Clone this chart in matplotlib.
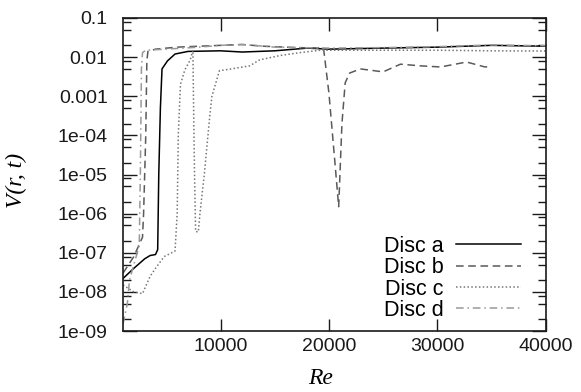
import matplotlib
matplotlib.use("Agg")
import matplotlib.pyplot as plt
from matplotlib.ticker import FixedLocator, FixedFormatter, LogLocator, NullFormatter

# Re values and V(r,t)
re_a = [1000, 2000, 3000, 3500, 4000, 4200, 4300, 4450, 4600, 5100, 5800, 7000,
        10000, 12000, 15000, 18000, 20000, 25000, 30000, 35000, 40000]
v_a = [2.2e-8, 4e-8, 7e-8, 8.5e-8, 9e-8, 1.2e-7, 1e-5, 5e-4, 5e-3, 8e-3, 1.2e-2, 1.4e-2,
       1.45e-2, 1.35e-2, 1.45e-2, 1.7e-2, 1.6e-2, 1.7e-2, 1.8e-2, 2e-2, 1.9e-2]

re_b = [1000, 2000, 2800, 2900, 3100, 3200, 3300, 4000, 6000, 8000, 10000, 12000,
        14000, 17000, 19500, 20000, 20500, 20900, 21200, 21500, 21900, 22900, 25000,
        26600, 28400, 30300, 32700, 34400, 35000]
v_b = [3e-8, 8e-8, 2.5e-7, 1e-6, 1e-4, 8e-3, 1.4e-2, 1.6e-2, 1.8e-2, 1.9e-2, 2e-2, 2.1e-2,
       1.9e-2, 1.75e-2, 1.7e-2, 1.2e-3, 3e-5, 1.5e-6, 2e-4, 2.2e-3, 3.9e-3, 5e-3, 4.2e-3,
       6.6e-3, 6e-3, 5.6e-3, 7.5e-3, 5.6e-3, 5.8e-3]

re_c = [1000, 2000, 2800, 3500, 4000, 4800, 5800, 6000, 6100, 6300, 6700, 7200, 7450,
        7500, 7600, 7700, 7950, 8100, 8500, 9000, 9200, 9900, 11000, 12700, 13600,
        15500, 17300, 19200, 25000, 30000, 35000, 40000]
v_c = [1.5e-8, 1e-8, 9e-9, 2.5e-8, 4e-8, 8e-8, 1.1e-7, 1e-6, 1e-4, 2e-3, 4.7e-3, 8.4e-3, 1.5e-2,
       1e-3, 1e-5, 3.5e-7, 3.4e-7, 1e-6, 1e-5, 3e-4, 1e-3, 4.5e-3, 5e-3, 6e-3, 8.5e-3,
       1.1e-2, 1.3e-2, 1.5e-2, 1.5e-2, 1.5e-2, 1.45e-2, 1.43e-2]

re_d = [1000, 1400, 1600, 2000, 2500, 2600, 2700, 2800, 3100, 5000, 8000, 10000,
        12000, 14000, 15000, 20000, 25000, 30000, 35000, 40000]
v_d = [1.5e-9, 5e-9, 2e-8, 5e-8, 1.5e-7, 1e-5, 5e-3, 1.3e-2, 1.5e-2, 1.6e-2, 1.8e-2, 2e-2,
       2.1e-2, 1.9e-2, 1.8e-2, 1.7e-2, 1.75e-2, 1.85e-2, 2.05e-2, 1.95e-2]

labels = ["Disc a", "Disc b", "Disc c", "Disc d"]
y_ticks = [1e-1, 1e-2, 1e-3, 1e-4, 1e-5, 1e-6, 1e-7, 1e-8, 1e-9]
y_tick_labels = ["0.1", "0.01", "0.001", "1e-04", "1e-05", "1e-06", "1e-07", "1e-08", "1e-09"]
x_ticks = [10000, 20000, 30000, 40000]

plt.rcParams["font.family"] = ["Liberation Sans", "DejaVu Sans"]

fig = plt.figure(figsize=(5.81, 3.92), dpi=100)
ax = fig.add_axes([123 / 581, 61 / 392, 422.7 / 581, 313 / 392])

ax.plot(re_a, v_a, color="black", lw=1.1, ls="-", label=labels[0])
ax.plot(re_b, v_b, color="#5a5a5a", lw=1.1, ls=(0, (5, 3)), label=labels[1])
ax.plot(re_c, v_c, color="#777777", lw=1.1, ls=(0, (1, 1.5)), label=labels[2])
ax.plot(re_d, v_d, color="#999999", lw=1.1, ls=(0, (5, 2.5, 1, 2.5)), label=labels[3])

ax.set_yscale("log")
ax.set_xlim(1000, 40000)
ax.set_ylim(1e-9, 1e-1)

ax.yaxis.set_major_locator(FixedLocator(y_ticks))
ax.yaxis.set_major_formatter(FixedFormatter(y_tick_labels))
ax.yaxis.set_minor_locator(LogLocator(base=10, subs=[2, 5, 8], numticks=20))
ax.yaxis.set_minor_formatter(NullFormatter())
ax.set_xticks(x_ticks)

ax.tick_params(axis="both", which="both", direction="in", top=True, right=True,
               labelsize=14, width=1.0, colors="#1a1a1a")
ax.tick_params(axis="y", which="major", length=10, pad=11)
ax.tick_params(axis="y", which="minor", length=6)
ax.tick_params(axis="x", which="major", length=9, pad=5)
for sp in ax.spines.values():
    sp.set_linewidth(1.2)
    sp.set_color("#1a1a1a")

fig.text(16 / 581, 1 - 180 / 392, "V(r, t)", rotation=90, ha="center", va="center",
         family="Liberation Serif", style="italic", fontsize=17)
fig.text(321 / 581, 1 - 378 / 392, "Re", ha="center", va="center",
         family="Liberation Serif", style="italic", fontsize=17)

ax.legend(loc="lower right", bbox_to_anchor=(521 / 581, 71 / 392),
          bbox_transform=fig.transFigure, frameon=False, markerfirst=False,
          fontsize=15.5, handlelength=3.0, handletextpad=0.6, labelspacing=0.02,
          borderpad=0, borderaxespad=0)

fig.savefig("out.png", dpi=100)
